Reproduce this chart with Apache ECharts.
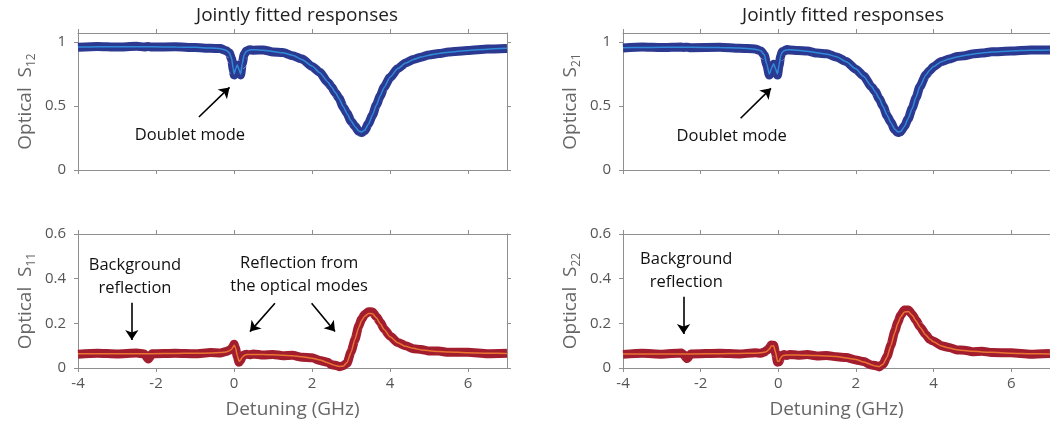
<!DOCTYPE html>
<html><head><meta charset="utf-8">
<script src="https://cdn.jsdelivr.net/npm/echarts@6/dist/echarts.min.js"></script>
<style>html,body{margin:0;padding:0;background:#fff}#c{width:1050px;height:430px}</style>
</head><body><div id="c"></div>
<script>
// ---- data (detuning in GHz) ----
const xL = [-4,-3.5,-3,-2.5,-2.3,-2.2,-2.1,-1.5,-1,-0.6,-0.35,-0.2,-0.12,-0.06,-0.02,0.005,0.04,0.085,0.13,0.17,0.21,0.26,0.32,0.4,0.5,0.75,1,1.25,1.5,1.75,2,2.2,2.4,2.5,2.6,2.7,2.8,2.9,3,3.1,3.2,3.27,3.35,3.45,3.55,3.65,3.75,3.85,4,4.2,4.4,4.6,4.8,5,5.25,5.5,6,6.5,7];
const s12Data = [0.958,0.965,0.960,0.966,0.961,0.964,0.960,0.963,0.956,0.951,0.948,0.932,0.913,0.866,0.785,0.742,0.788,0.818,0.778,0.742,0.828,0.902,0.93,0.939,0.936,0.938,0.922,0.918,0.893,0.866,0.808,0.763,0.686,0.651,0.601,0.558,0.491,0.443,0.381,0.343,0.301,0.292,0.307,0.363,0.427,0.508,0.577,0.648,0.722,0.792,0.836,0.864,0.881,0.899,0.909,0.921,0.933,0.945,0.949];
const s12Fit = [0.960,0.962,0.963,0.963,0.963,0.963,0.962,0.961,0.958,0.953,0.947,0.935,0.915,0.87,0.79,0.75,0.79,0.82,0.785,0.75,0.83,0.9,0.928,0.937,0.94,0.935,0.926,0.915,0.897,0.862,0.812,0.76,0.69,0.648,0.605,0.555,0.495,0.44,0.385,0.34,0.305,0.296,0.31,0.36,0.43,0.505,0.58,0.645,0.725,0.792,0.835,0.863,0.882,0.897,0.91,0.92,0.934,0.944,0.95];
const s11Data = [0.062,0.066,0.063,0.067,0.063,0.04,0.064,0.066,0.064,0.069,0.067,0.074,0.079,0.087,0.099,0.106,0.088,0.05,0.026,0.034,0.05,0.059,0.062,0.059,0.063,0.058,0.061,0.055,0.057,0.048,0.046,0.034,0.026,0.015,0.012,0.006,0.01,0.022,0.072,0.126,0.19,0.218,0.24,0.252,0.251,0.23,0.205,0.175,0.143,0.114,0.1,0.086,0.083,0.076,0.076,0.07,0.07,0.064,0.066];
const s11Fit = [0.064,0.064,0.064,0.064,0.064,0.064,0.064,0.065,0.066,0.067,0.069,0.072,0.077,0.084,0.095,0.102,0.09,0.055,0.03,0.036,0.048,0.056,0.06,0.061,0.061,0.06,0.059,0.057,0.055,0.05,0.044,0.036,0.024,0.017,0.011,0.007,0.008,0.025,0.07,0.128,0.183,0.212,0.232,0.244,0.243,0.225,0.198,0.172,0.14,0.113,0.097,0.088,0.081,0.077,0.074,0.072,0.068,0.066,0.065];

const xR = [-4,-3.5,-3,-2.5,-2.45,-2.35,-2.25,-1.5,-1,-0.6,-0.45,-0.36,-0.3,-0.23,-0.18,-0.12,-0.07,-0.02,0.02,0.06,0.1,0.15,0.22,0.3,0.5,0.75,1,1.25,1.5,1.75,2,2.2,2.4,2.5,2.6,2.7,2.8,2.9,3,3.08,3.15,3.25,3.35,3.45,3.55,3.65,3.8,3.9,4,4.2,4.4,4.6,4.8,5,5.25,5.5,6,6.5,7];
const s21Data = [0.953,0.96,0.956,0.961,0.957,0.959,0.955,0.958,0.95,0.946,0.93,0.897,0.825,0.742,0.785,0.825,0.785,0.742,0.815,0.887,0.923,0.929,0.941,0.937,0.934,0.929,0.913,0.908,0.882,0.848,0.786,0.734,0.651,0.613,0.556,0.498,0.426,0.372,0.316,0.292,0.298,0.343,0.401,0.484,0.566,0.652,0.742,0.776,0.806,0.847,0.866,0.886,0.893,0.906,0.913,0.923,0.929,0.937,0.937];
const s21Fit = [0.955,0.957,0.958,0.958,0.958,0.958,0.958,0.956,0.952,0.944,0.932,0.9,0.83,0.75,0.79,0.83,0.79,0.75,0.82,0.89,0.92,0.932,0.938,0.94,0.936,0.927,0.916,0.905,0.885,0.845,0.79,0.73,0.655,0.61,0.56,0.495,0.43,0.37,0.32,0.297,0.3,0.34,0.405,0.48,0.57,0.655,0.74,0.78,0.808,0.845,0.867,0.883,0.895,0.904,0.914,0.921,0.93,0.935,0.938];
const s22Data = [0.061,0.066,0.062,0.067,0.062,0.042,0.063,0.066,0.063,0.068,0.066,0.072,0.078,0.089,0.103,0.102,0.068,0.026,0.028,0.047,0.057,0.06,0.056,0.061,0.057,0.06,0.054,0.056,0.05,0.047,0.036,0.029,0.013,0.011,0.005,0.018,0.05,0.102,0.164,0.205,0.235,0.26,0.26,0.24,0.214,0.185,0.15,0.128,0.12,0.1,0.092,0.081,0.08,0.073,0.075,0.069,0.068,0.062,0.065];
const s22Fit = [0.063,0.063,0.063,0.063,0.063,0.063,0.063,0.064,0.065,0.066,0.068,0.07,0.074,0.085,0.098,0.1,0.07,0.03,0.03,0.045,0.053,0.057,0.058,0.058,0.058,0.057,0.056,0.054,0.051,0.045,0.038,0.027,0.015,0.009,0.006,0.017,0.048,0.1,0.158,0.2,0.228,0.251,0.253,0.236,0.21,0.183,0.148,0.13,0.117,0.099,0.089,0.082,0.078,0.075,0.072,0.07,0.066,0.064,0.063];

const xTicks = [-4,-2,0,2,4,6];
const yTicksTop = [0,0.5,1];
const yTicksBot = [0,0.2,0.4,0.6];
const panelTitle = 'Jointly fitted responses';
const xName = 'Detuning (GHz)';
const yNames = [['Optical  S','12'],['Optical  S','21'],['Optical  S','11'],['Optical  S','22']];

// ---- styling ----
const FONT = '"Open Sans", "Noto Sans", sans-serif';
const AX = '#8f8f8f';
const BLUE_D = '#2b3990', BLUE_F = '#2f8bd8';
const RED_D = '#a21d2e', RED_F = '#ea7430';
const pair = (xs, ys) => xs.map((x, i) => [x, ys[i]]);

const grids = [
  {left: 78, top: 33, width: 429, height: 137},
  {left: 623, top: 33, width: 429, height: 137},
  {left: 78, top: 234, width: 429, height: 134},
  {left: 623, top: 234, width: 429, height: 134}
];

const xAxes = [], yAxes = [];
for (let i = 0; i < 4; i++) {
  const bottom = i >= 2;
  xAxes.push({type: 'value', gridIndex: i, min: -4, max: 7, position: 'bottom',
    axisLine: {show: true, onZero: false, lineStyle: {color: AX}},
    axisTick: {show: true, inside: false, length: 4, customValues: xTicks, lineStyle: {color: AX}},
    axisLabel: {show: bottom, customValues: xTicks, margin: 8, fontSize: 15, color: '#555', fontFamily: FONT},
    splitLine: {show: false},
    name: bottom ? xName : '', nameLocation: 'middle', nameGap: 32,
    nameTextStyle: {fontSize: 19, color: '#666', fontFamily: FONT}});
}
for (let i = 0; i < 4; i++) {
  xAxes.push({type: 'value', gridIndex: i, min: -4, max: 7, position: 'top',
    axisLine: {show: true, onZero: false, lineStyle: {color: AX}},
    axisTick: {show: true, inside: false, length: 4, customValues: xTicks, lineStyle: {color: AX}},
    axisLabel: {show: false}, splitLine: {show: false}});
}
for (let i = 0; i < 4; i++) {
  const top = i < 2;
  const ticks = top ? yTicksTop : yTicksBot;
  yAxes.push({type: 'value', gridIndex: i, min: 0, max: top ? 1.07 : 0.6, position: 'left',
    axisLine: {show: true, onZero: false, lineStyle: {color: AX}},
    axisTick: {show: true, inside: false, length: 4, customValues: ticks, lineStyle: {color: AX}},
    axisLabel: {customValues: ticks, margin: 12, fontSize: 15, color: '#555', fontFamily: FONT},
    splitLine: {show: false},
    name: '{a|' + yNames[i][0] + '}{b|' + yNames[i][1] + '}', nameLocation: 'middle', nameGap: 40,
    nameTextStyle: {color: '#666', fontFamily: FONT,
      rich: {a: {fontSize: 19, color: '#666', fontFamily: FONT, lineHeight: 24},
             b: {fontSize: 12, color: '#666', fontFamily: FONT, lineHeight: 12, verticalAlign: 'bottom'}}}});
}
for (let i = 0; i < 4; i++) {
  const top = i < 2;
  const ticks = top ? yTicksTop : yTicksBot;
  yAxes.push({type: 'value', gridIndex: i, min: 0, max: top ? 1.07 : 0.6, position: 'right',
    axisLine: {show: true, onZero: false, lineStyle: {color: AX}},
    axisTick: {show: true, inside: false, length: 4, customValues: ticks, lineStyle: {color: AX}},
    axisLabel: {show: false}, splitLine: {show: false}});
}

const annLabel = {show: true, position: 'inside', color: '#111', fontSize: 16.5, lineHeight: 23, fontFamily: FONT, align: 'center', verticalAlign: 'middle'};
function texts(list) {
  return {symbol: 'rect', symbolSize: 1, itemStyle: {color: 'rgba(0,0,0,0)'}, silent: true, animation: false,
    label: annLabel,
    data: list.map(t => ({coord: t.at, value: 0, label: Object.assign({}, annLabel, {formatter: t.text})}))};
}
function arrows(list) {
  return {silent: true, animation: false, symbol: ['none', 'arrow'], symbolSize: 10,
    lineStyle: {color: '#000', width: 1.6, type: 'solid'}, label: {show: false},
    data: list.map(a => [{coord: a[0]}, {coord: a[1]}])};
}

const ann = [
  {texts: [{text: 'Doublet mode', at: [-1.13, 0.273]}], arrows: [[[-0.9, 0.414], [-0.115, 0.645]]]},
  {texts: [{text: 'Doublet mode', at: [-1.2, 0.26]}], arrows: [[[-0.97, 0.404], [-0.187, 0.638]]]},
  {texts: [{text: 'Background\nreflection', at: [-2.54, 0.409]}, {text: 'Reflection from\nthe optical modes', at: [1.67, 0.418]}],
   arrows: [[[-2.62, 0.292], [-2.62, 0.125]], [[1.05, 0.29], [0.41, 0.163]], [[1.99, 0.29], [2.59, 0.163]]]},
  {texts: [{text: 'Background\nreflection', at: [-2.37, 0.434]}], arrows: [[[-2.44, 0.319], [-2.44, 0.152]]]}
];

const panels = [
  {x: xL, d: s12Data, f: s12Fit, dc: BLUE_D, fc: BLUE_F},
  {x: xR, d: s21Data, f: s21Fit, dc: BLUE_D, fc: BLUE_F},
  {x: xL, d: s11Data, f: s11Fit, dc: RED_D, fc: RED_F},
  {x: xR, d: s22Data, f: s22Fit, dc: RED_D, fc: RED_F}
];
const series = [];
panels.forEach((p, i) => {
  series.push({type: 'line', xAxisIndex: i, yAxisIndex: i, data: pair(p.x, p.d), symbol: 'none', smooth: 0.2, smoothMonotone: 'x',
    lineStyle: {width: 9, color: p.dc, join: 'round', cap: 'butt'}, z: 2});
  series.push({type: 'line', xAxisIndex: i, yAxisIndex: i, data: pair(p.x, p.f), symbol: 'none', smooth: 0.2, smoothMonotone: 'x',
    lineStyle: {width: 1.5, color: p.fc}, z: 3,
    markPoint: texts(ann[i].texts), markLine: arrows(ann[i].arrows)});
});

const chart = echarts.init(document.getElementById('c'), null, {renderer: 'canvas'});
chart.setOption({
  animation: false,
  backgroundColor: '#fff',
  title: [
    {text: panelTitle, left: 292, top: 1, textAlign: 'center', textStyle: {fontSize: 19, fontWeight: 'normal', color: '#222', fontFamily: FONT}},
    {text: panelTitle, left: 838, top: 1, textAlign: 'center', textStyle: {fontSize: 19, fontWeight: 'normal', color: '#222', fontFamily: FONT}}
  ],
  grid: grids,
  xAxis: xAxes,
  yAxis: yAxes,
  series: series
});
</script>
</body></html>
